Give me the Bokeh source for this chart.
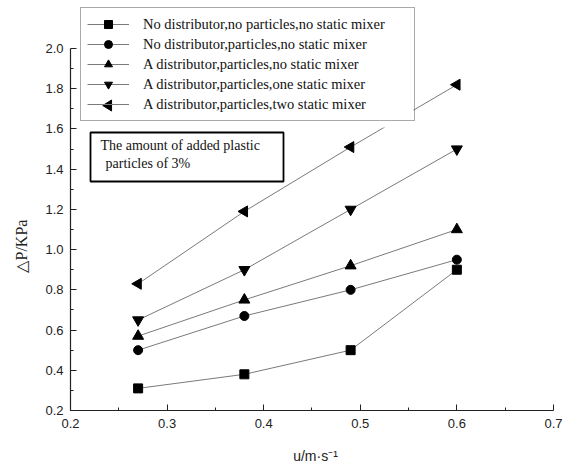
import math
from bokeh.plotting import figure
from bokeh.models import (Range1d, FixedTicker, Legend, LegendItem, Label,
                          BoxAnnotation, PolyAnnotation, NumeralTickFormatter, Title)
from bokeh.embed import file_html
from bokeh.resources import INLINE

# ---- data ----
x_vals = [0.27, 0.38, 0.49, 0.60]
s_none = [0.31, 0.38, 0.50, 0.90]
s_particles = [0.50, 0.67, 0.80, 0.95]
s_distributor = [0.57, 0.75, 0.92, 1.10]
s_one_mixer = [0.65, 0.90, 1.20, 1.50]
s_two_mixer = [0.83, 1.19, 1.51, 1.82]

series_labels = [
    "No distributor,no particles,no static mixer",
    "No distributor,particles,no static mixer",
    "A distributor,particles,no static mixer",
    "A distributor,particles,one static mixer",
    "A distributor,particles,two static mixer",
]

x_ticks = [0.2, 0.3, 0.4, 0.5, 0.6, 0.7]
x_tick_labels = ["0.2", "0.3", "0.4", "0.5", "0.6", "0.7"]
x_minor = [0.25, 0.35, 0.45, 0.55, 0.65]
y_ticks = [0.2, 0.4, 0.6, 0.8, 1.0, 1.2, 1.4, 1.6, 1.8, 2.0]
y_tick_labels = ["0.2", "0.4", "0.6", "0.8", "1.0", "1.2", "1.4", "1.6", "1.8", "2.0"]
y_minor = [0.3, 0.5, 0.7, 0.9, 1.1, 1.3, 1.5, 1.7, 1.9]

x_title = "u/m\u00b7s\u207b\u00b9"
y_title = "\u25b3P/KPa"
note_line1 = "The amount of added plastic"
note_line2 = "particles of 3%"

# ---- layout constants ----
W, H = 565, 470
BL, BR, BT, BB = 70, 5, 5, 60

# ---- figure ----
p = figure(width=W, height=H, output_backend="svg", toolbar_location=None,
           x_range=Range1d(0.2, 0.7073), y_range=Range1d(0.2, 2.2139),
           min_border_left=BL, min_border_right=BR, min_border_top=BT,
           min_border_bottom=BB)
p.outline_line_color = None
p.xgrid.visible = False
p.ygrid.visible = False
p.background_fill_color = "white"
p.border_fill_color = "white"

for ax in (p.xaxis[0], p.yaxis[0]):
    ax.axis_line_color = "#222222"
    ax.axis_line_width = 1.2
    ax.major_tick_line_color = "#222222"
    ax.minor_tick_line_color = "#222222"
    ax.major_tick_in = 6
    ax.major_tick_out = 0
    ax.minor_tick_in = 3
    ax.minor_tick_out = 0
    ax.major_label_text_font = "Liberation Sans"
    ax.major_label_text_font_size = "13px"
    ax.major_label_text_color = "#222222"
    ax.formatter = NumeralTickFormatter(format="0.0")

p.xaxis[0].ticker = FixedTicker(ticks=x_ticks, minor_ticks=x_minor)
p.xaxis[0].major_label_overrides = dict(zip(x_ticks, x_tick_labels))
p.xaxis[0].bounds = (x_ticks[0], x_ticks[-1])
p.xaxis[0].major_label_standoff = 8
p.xaxis[0].axis_label = x_title
p.xaxis[0].axis_label_text_font = "Liberation Sans"
p.xaxis[0].axis_label_text_font_style = "normal"
p.xaxis[0].axis_label_text_font_size = "14px"
p.xaxis[0].axis_label_text_color = "#222222"
p.xaxis[0].axis_label_standoff = 17

p.yaxis[0].ticker = FixedTicker(ticks=y_ticks, minor_ticks=y_minor)
p.yaxis[0].major_label_overrides = dict(zip(y_ticks, y_tick_labels))
p.yaxis[0].bounds = (y_ticks[0], y_ticks[-1])
p.yaxis[0].major_label_standoff = 7

# y axis title (vertical, placed in left panel)
p.add_layout(Title(text=y_title, align="left", vertical_align="top",
                   offset=138, standoff=22,
                   text_font="Liberation Serif", text_font_size="16px",
                   text_font_style="normal", text_color="#222222"), "left")

# ---- series ----
series = [s_none, s_particles, s_distributor, s_one_mixer, s_two_mixer]
markers = ["square", "circle", "triangle", "inverted_triangle", "triangle"]
angles = [0, 0, 0, 0, math.pi / 2]
sizes = [9, 9, 11, 11, 11]

items = []
for ys, mk, ang, sz, lab in zip(series, markers, angles, sizes, series_labels):
    lr = p.line(x_vals, ys, line_color="#7a7a7a", line_width=1)
    sr = p.scatter(x_vals, ys, marker=mk, angle=ang, size=sz,
                   fill_color="black", line_color="black")
    # legend glyphs cannot be rotated: rotated keys are drawn separately below
    items.append(LegendItem(label=lab, renderers=[lr, sr] if ang == 0 else [lr]))

# legend geometry (frame pixels, from bottom-left of frame)
LG_X, LG_Y = 10, 289
PAD, ROW_H, GLYPH_W, STANDOFF = 6, 20, 42, 14
n_rows = len(series_labels)
LG_H = 2 * PAD + ROW_H * n_rows
LG_W = 333

# white legend background (plus the white strip below it, as in the original)
p.add_layout(BoxAnnotation(left=LG_X, right=LG_X + LG_W, bottom=LG_Y - 6, top=LG_Y + LG_H,
                           left_units="screen", right_units="screen",
                           top_units="screen", bottom_units="screen",
                           fill_color="white", fill_alpha=1, line_alpha=0))

# rotated legend key markers (left-pointing triangle)
for i, (ang, sz) in enumerate(zip(angles, sizes)):
    if ang != 0:
        kx = LG_X + PAD + GLYPH_W / 2
        ky = LG_Y + LG_H - PAD - ROW_H * (i + 0.5)
        r = sz / 2
        dx = r * math.sqrt(3) / 2
        p.add_layout(PolyAnnotation(
            xs=[kx - dx, kx + dx * 0.85, kx + dx * 0.85],
            ys=[ky, ky + r, ky - r],
            xs_units="screen", ys_units="screen",
            fill_color="black", fill_alpha=1,
            line_color="black", line_alpha=1, line_width=1))

legend = Legend(items=items, location=(LG_X, LG_Y), padding=PAD, spacing=0,
                margin=0, label_height=ROW_H, glyph_height=ROW_H, glyph_width=GLYPH_W,
                label_standoff=STANDOFF,
                label_width=LG_W - 2 * PAD - GLYPH_W - STANDOFF,
                label_text_font="Liberation Serif", label_text_font_size="14.5px",
                label_text_color="#111111",
                border_line_color="#555555", border_line_width=1,
                background_fill_alpha=0)
p.add_layout(legend)

# note box
p.add_layout(BoxAnnotation(left=20, right=213, bottom=229, top=278,
                           left_units="screen", right_units="screen",
                           top_units="screen", bottom_units="screen",
                           fill_color="white", fill_alpha=1,
                           line_color="black", line_alpha=1, line_width=1.8))
p.add_layout(Label(x=30, y=265, x_units="screen", y_units="screen",
                   text=note_line1, text_baseline="middle",
                   text_font="Liberation Serif", text_font_size="14px",
                   text_color="#111111"))
p.add_layout(Label(x=35, y=247, x_units="screen", y_units="screen",
                   text=note_line2, text_baseline="middle",
                   text_font="Liberation Serif", text_font_size="14px",
                   text_color="#111111"))

open("out.html", "w").write(file_html(p, INLINE))
